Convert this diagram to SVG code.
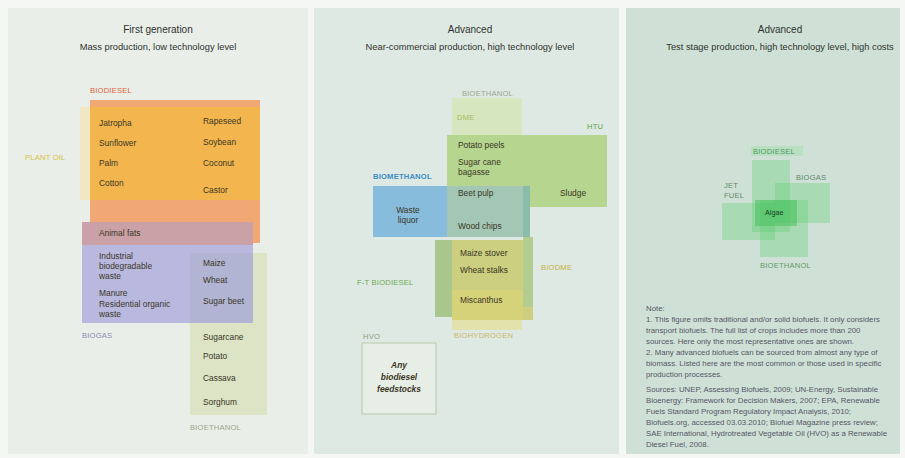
<svg xmlns="http://www.w3.org/2000/svg" width="905" height="458" viewBox="0 0 905 458">
<defs>
<style>
text{font-family:"Liberation Sans",Arial,sans-serif;}
.title{font-size:10px;fill:#2e322e;text-anchor:middle;}
.sub{font-size:9.3px;fill:#2e322e;text-anchor:middle;}
.item{font-size:8.4px;fill:#3a3626;}
.lab{font-size:7.6px;letter-spacing:0.2px;}
.note{font-size:7.8px;fill:#556;}
</style>
</defs>
<rect x="0" y="0" width="905" height="458" fill="#f4f7f4"/>
<g id="panels">
<rect x="8" y="8" width="300" height="446" fill="#e9eee9"/>
<rect x="314" y="8" width="305" height="446" fill="#dfe9e3"/>
<rect x="626" y="8" width="274" height="446" fill="#cfe1d6"/>
</g>
<g id="titles">
<text class="title" x="158" y="33">First generation</text>
<text class="sub" x="158" y="50">Mass production, low technology level</text>
<text class="title" x="470" y="33">Advanced</text>
<text class="sub" x="470" y="50">Near-commercial production, high technology level</text>
<text class="title" x="780" y="33">Advanced</text>
<text class="sub" x="780" y="50">Test stage production, high technology level, high costs</text>
</g>
<g id="connectors"></g>

<!-- First generation -->
<g id="biodiesel1">
<rect x="90" y="100" width="170" height="143" fill="#f1a874"/>
<text class="lab" x="90" y="93" fill="#e0603a">BIODIESEL</text>
</g>
<g id="plantoil">
<rect x="80" y="107" width="10" height="93" fill="#efe8c2"/>
<rect x="90" y="107" width="170" height="93" fill="#f3b64e"/>
<text class="lab" x="25" y="160" fill="#d8c23e">PLANT OIL</text>
<text class="item" x="99" y="126">Jatropha</text>
<text class="item" x="99" y="146">Sunflower</text>
<text class="item" x="99" y="166">Palm</text>
<text class="item" x="99" y="186">Cotton</text>
<text class="item" x="203" y="124">Rapeseed</text>
<text class="item" x="203" y="145">Soybean</text>
<text class="item" x="203" y="166">Coconut</text>
<text class="item" x="203" y="193">Castor</text>
</g>
<g id="bioethanol1">
<rect x="190" y="253" width="77" height="162" fill="#dce4c5"/>
<text class="item" x="203" y="340">Sugarcane</text>
<text class="item" x="203" y="359">Potato</text>
<text class="item" x="203" y="381">Cassava</text>
<text class="item" x="203" y="405">Sorghum</text>
<text class="lab" x="190" y="430" fill="#9aa68c">BIOETHANOL</text>
</g>
<g id="biogas">
<rect x="82" y="222" width="171" height="101" fill="#b9b9df"/>
<rect x="190" y="253" width="63" height="70" fill="#b1b4d2"/>
<rect x="82" y="222" width="171" height="23" fill="#c9a1a6"/>
<text class="item" x="99" y="236">Animal fats</text>
<text class="item" x="99" y="259">Industrial</text>
<text class="item" x="99" y="269">biodegradable</text>
<text class="item" x="99" y="279">waste</text>
<text class="item" x="99" y="296">Manure</text>
<text class="item" x="99" y="307">Residential organic</text>
<text class="item" x="99" y="317">waste</text>
<text class="item" x="203" y="266">Maize</text>
<text class="item" x="203" y="283">Wheat</text>
<text class="item" x="203" y="304">Sugar beet</text>
<text class="lab" x="82" y="338" fill="#8c8cb8">BIOGAS</text>
</g>

<!-- Advanced middle -->
<g id="bioethanol2">
<rect x="452" y="98" width="70" height="37" fill="#d6e7c0"/>
<text class="lab" x="462" y="96" fill="#9aa68c">BIOETHANOL</text>
</g>
<g id="dme">
<text class="lab" x="457" y="120" fill="#a9b860">DME</text>
</g>
<g id="htu">
<rect x="447" y="135" width="160" height="72" fill="#b6d68f"/>
<text class="lab" x="587" y="129" fill="#58a43e">HTU</text>
<text class="item" x="458" y="148">Potato peels</text>
<text class="item" x="458" y="165">Sugar cane</text>
<text class="item" x="458" y="175">bagasse</text>
<text class="item" x="560" y="196">Sludge</text>
</g>
<g id="biomethanol">
<rect x="373" y="186" width="157" height="51" fill="#87bcdc"/>
<rect x="447" y="186" width="76" height="51" fill="#a3c7b4"/>
<rect x="523" y="186" width="7" height="51" fill="#8bbcaa"/>
<text class="lab" x="373" y="179" fill="#3a8cc4" font-weight="bold">BIOMETHANOL</text>
<text class="item" x="408" y="213" text-anchor="middle">Waste</text>
<text class="item" x="408" y="223" text-anchor="middle">liquor</text>
<text class="item" x="458" y="196">Beet pulp</text>
<text class="item" x="458" y="229">Wood chips</text>
</g>
<g id="ftbiodiesel">
<rect x="435" y="240" width="98" height="77" fill="#a9c78d"/>
<text class="lab" x="357" y="285" fill="#6aaa52">F-T BIODIESEL</text>
</g>
<g id="biodme">
<rect x="452" y="240" width="81" height="80" fill="#cccf80"/>
<rect x="523" y="237" width="10" height="70" fill="#b3cc90"/>
<rect x="452" y="290" width="71" height="30" fill="#d6d27a"/>
<text class="lab" x="541" y="270" fill="#c2b244">BIODME</text>
<text class="item" x="460" y="256">Maize stover</text>
<text class="item" x="460" y="273">Wheat stalks</text>
<text class="item" x="460" y="303">Miscanthus</text>
</g>
<g id="biohydrogen">
<rect x="452" y="320" width="70" height="10" fill="#e4e2ac"/>
<text class="lab" x="454" y="338" fill="#c8b864">BIOHYDROGEN</text>
</g>
<g id="hvo">
<rect x="362" y="343" width="74" height="71" fill="#e7eee5" stroke="#b9c9ab" stroke-width="1"/>
<text class="lab" x="363" y="339" fill="#8d9a84">HVO</text>
<text class="item" x="399" y="368" text-anchor="middle" font-style="italic" font-weight="bold">Any</text>
<text class="item" x="399" y="380" text-anchor="middle" font-style="italic" font-weight="bold">biodiesel</text>
<text class="item" x="399" y="392" text-anchor="middle" font-style="italic" font-weight="bold">feedstocks</text>
</g>

<!-- Advanced right -->
<g id="cross" fill="#5fcf74">
<rect x="752" y="160" width="38" height="72" fill-opacity="0.35"/>
<rect x="775" y="183" width="55" height="40" fill-opacity="0.35"/>
<rect x="722" y="203" width="53" height="37" fill-opacity="0.35"/>
<rect x="760" y="200" width="48" height="57" fill-opacity="0.35"/>
</g>
<g id="algae">
<rect x="755" y="200" width="42" height="26" fill="#3fbf58" fill-opacity="0.5"/>
<text x="765" y="215" font-size="7.2px" fill="#163f1c">Algae</text>
</g>
<g id="labels3">
<rect x="751" y="146" width="52" height="10" fill="#a8e0b0" fill-opacity="0.6"/>
<text class="lab" x="753" y="154" fill="#4e9a60">BIODIESEL</text>
<text class="lab" x="796" y="180" fill="#5f8a6a">BIOGAS</text>
<text class="lab" x="724" y="188" fill="#5f8a6a">JET</text>
<text class="lab" x="724" y="198" fill="#5f8a6a">FUEL</text>
<text class="lab" x="760" y="268" fill="#5f9a6a">BIOETHANOL</text>
</g>
<g id="notes">
<text class="note" x="646" y="311">Note:</text>
<text class="note" x="646" y="322">1. This figure omits traditional and/or solid biofuels. It only considers</text>
<text class="note" x="646" y="333">transport biofuels. The full list of crops includes more than 200</text>
<text class="note" x="646" y="344">sources. Here only the most representative ones are shown.</text>
<text class="note" x="646" y="355">2. Many advanced biofuels can be sourced from almost any type of</text>
<text class="note" x="646" y="366">biomass. Listed here are the most common or those used in specific</text>
<text class="note" x="646" y="377">production processes.</text>
<text class="note" x="646" y="392">Sources: UNEP, Assessing Biofuels, 2009; UN-Energy, Sustainable</text>
<text class="note" x="646" y="403">Bioenergy: Framework for Decision Makers, 2007; EPA, Renewable</text>
<text class="note" x="646" y="414">Fuels Standard Program Regulatory Impact Analysis, 2010;</text>
<text class="note" x="646" y="425">Biofuels.org, accessed 03.03.2010; Biofuel Magazine press review;</text>
<text class="note" x="646" y="436">SAE International, Hydrotreated Vegetable Oil (HVO) as a Renewable</text>
<text class="note" x="646" y="447">Diesel Fuel, 2008.</text>
</g>
</svg>
